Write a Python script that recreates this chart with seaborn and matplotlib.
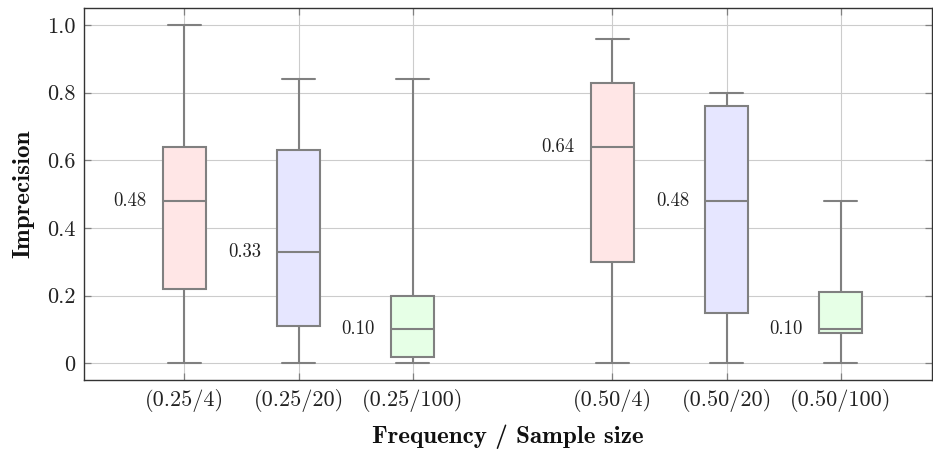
import numpy as np
import pandas as pd
import matplotlib
matplotlib.use("Agg")
import matplotlib.pyplot as plt
import seaborn as sns

# ---- data (five-number summaries) ----
groups = ["(0.25/4)", "(0.25/20)", "(0.25/100)", "(0.50/4)", "(0.50/20)", "(0.50/100)"]
positions = [1.0, 2.0, 3.0, 4.75, 5.75, 6.75]
mins    = [0.00, 0.00, 0.00, 0.00, 0.00, 0.00]
q1s     = [0.22, 0.11, 0.02, 0.30, 0.15, 0.09]
medians = [0.48, 0.33, 0.10, 0.64, 0.48, 0.10]
q3s     = [0.64, 0.63, 0.20, 0.83, 0.76, 0.21]
maxs    = [1.00, 0.84, 0.84, 0.96, 0.80, 0.48]
median_labels = ["0.48", "0.33", "0.10", "0.64", "0.48", "0.10"]
fill_colors = ["#ffe6e6", "#e6e6ff", "#e6ffe6", "#ffe6e6", "#e6e6ff", "#e6ffe6"]
ytick_vals = [0, 0.2, 0.4, 0.6, 0.8, 1.0]
ytick_labels = ["0", "0.2", "0.4", "0.6", "0.8", "1.0"]

# five values per group reproduce the quartiles exactly
rows = []
for g, p, a, b, c, d, e in zip(groups, positions, mins, q1s, medians, q3s, maxs):
    for v in (a, b, c, d, e):
        rows.append({"group": g, "pos": p, "value": v})
df = pd.DataFrame(rows)

sns.set_theme(style="white")
plt.rcParams["axes.formatter.use_mathtext"] = True

fig = plt.figure(figsize=(9.33, 4.51), dpi=100)
ax = fig.add_axes([0.090, 0.157, 0.909, 0.825])

edge = "#808080"
box_w = 0.375
sns.boxplot(
    data=df, x="pos", y="value", hue="group", hue_order=groups,
    palette=dict(zip(groups, fill_colors)), native_scale=True, dodge=False,
    saturation=1, whis=(0, 100), width=box_w, linecolor=edge, linewidth=1.5,
    legend=False, ax=ax, zorder=3,
)

# widen whisker caps to match reference
for ln in ax.lines:
    xd = np.asarray(ln.get_xdata(), dtype=float)
    yd = np.asarray(ln.get_ydata(), dtype=float)
    if len(xd) == 2 and abs(yd[0] - yd[1]) < 1e-9 and abs((xd[1] - xd[0]) - 0.5 * box_w) < 1e-6:
        c = xd.mean()
        ln.set_xdata([c - 0.146, c + 0.146])

# median labels
for p, m, lab in zip(positions, medians, median_labels):
    ax.text(p - 0.33, m, lab, ha="right", va="center", fontsize=13.5,
            family="cmr10", color="#222222", zorder=4)

ax.set_xlim(0.12, 7.55)
ax.set_ylim(-0.05, 1.05)
ax.set_xticks(positions)
ax.set_xticklabels(groups, family="cmr10", fontsize=16)
ax.set_yticks(ytick_vals)
ax.set_yticklabels(ytick_labels, family="cmr10", fontsize=16)
ax.grid(True, color="#cccccc", linewidth=0.8, zorder=0)
ax.set_axisbelow(True)
ax.tick_params(axis="both", which="major", direction="in", length=5, width=0.9,
               color="#808080", top=True, right=True, bottom=True, left=True,
               labelcolor="#222222", pad=6)
for s in ax.spines.values():
    s.set_visible(True)
    s.set_color("#333333")
    s.set_linewidth(1.0)

ax.set_xlabel("Frequency / Sample size", family="cmb10", fontsize=18, labelpad=9, color="#111111")
ax.set_ylabel("Imprecision", family="cmb10", fontsize=18, labelpad=9, color="#111111")

fig.savefig("out.png", dpi=100)
